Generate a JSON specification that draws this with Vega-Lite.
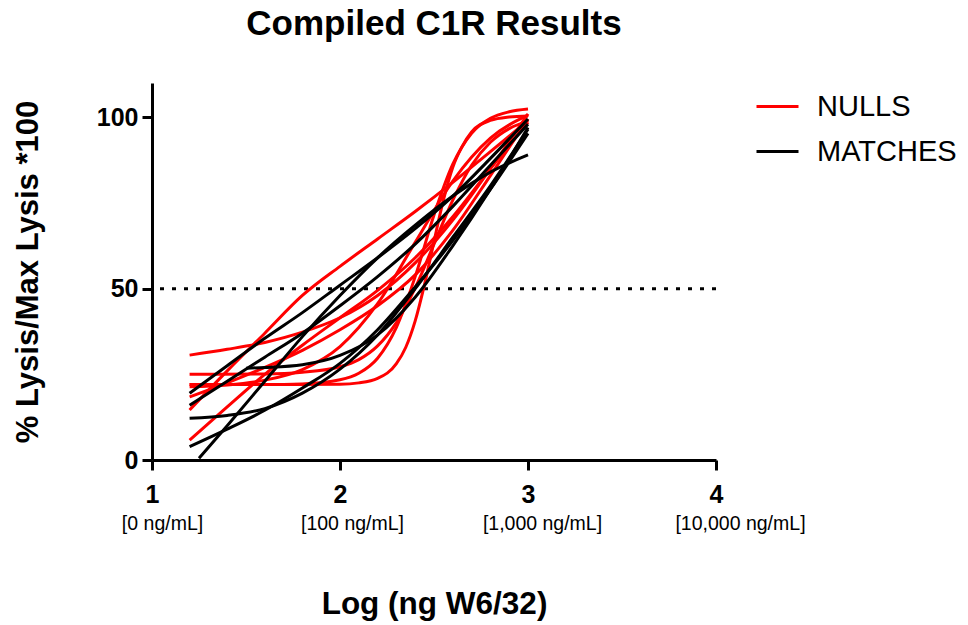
{
  "$schema": "https://vega.github.io/schema/vega-lite/v6.json",
  "width": 564,
  "height": 377,
  "autosize": {"type": "none"},
  "padding": {"left": 152, "top": 83, "right": 252, "bottom": 165},
  "background": "white",
  "title": {"text": "Compiled C1R Results", "font": "Liberation Sans", "fontSize": 35, "fontWeight": "bold", "color": "black", "anchor": "middle", "baseline": "alphabetic", "offset": 13},
  "config": {
    "view": {"stroke": null},
    "axis": {"domainColor": "black", "domainWidth": 3, "tickColor": "black", "tickWidth": 3, "grid": false, "labelFont": "Liberation Sans", "titleFont": "Liberation Sans", "labelColor": "black", "titleColor": "black", "labelFlush": false, "labelOverlap": false}
  },
  "datasets": {
    "curves": [
      {"curve": "R1", "group": "NULLS", "x": 1.2, "y": 14.6}, {"curve": "R1", "group": "NULLS", "x": 1.4, "y": 26}, {"curve": "R1", "group": "NULLS", "x": 1.6, "y": 37}, {"curve": "R1", "group": "NULLS", "x": 1.8, "y": 48}, {"curve": "R1", "group": "NULLS", "x": 2.0, "y": 56.5}, {"curve": "R1", "group": "NULLS", "x": 2.2, "y": 64.5}, {"curve": "R1", "group": "NULLS", "x": 2.4, "y": 72.5}, {"curve": "R1", "group": "NULLS", "x": 2.6, "y": 81}, {"curve": "R1", "group": "NULLS", "x": 2.8, "y": 90}, {"curve": "R1", "group": "NULLS", "x": 3.0, "y": 99},
      {"curve": "R2", "group": "NULLS", "x": 1.2, "y": 5.8}, {"curve": "R2", "group": "NULLS", "x": 1.4, "y": 15.5}, {"curve": "R2", "group": "NULLS", "x": 1.6, "y": 25}, {"curve": "R2", "group": "NULLS", "x": 1.8, "y": 33.5}, {"curve": "R2", "group": "NULLS", "x": 2.0, "y": 41.5}, {"curve": "R2", "group": "NULLS", "x": 2.2, "y": 49.5}, {"curve": "R2", "group": "NULLS", "x": 2.4, "y": 59}, {"curve": "R2", "group": "NULLS", "x": 2.6, "y": 71}, {"curve": "R2", "group": "NULLS", "x": 2.8, "y": 85}, {"curve": "R2", "group": "NULLS", "x": 3.0, "y": 98.5},
      {"curve": "R3", "group": "NULLS", "x": 1.2, "y": 30.6}, {"curve": "R3", "group": "NULLS", "x": 1.4, "y": 32.3}, {"curve": "R3", "group": "NULLS", "x": 1.6, "y": 34.3}, {"curve": "R3", "group": "NULLS", "x": 1.8, "y": 37.3}, {"curve": "R3", "group": "NULLS", "x": 2.0, "y": 41.5}, {"curve": "R3", "group": "NULLS", "x": 2.2, "y": 48}, {"curve": "R3", "group": "NULLS", "x": 2.4, "y": 57.5}, {"curve": "R3", "group": "NULLS", "x": 2.6, "y": 70}, {"curve": "R3", "group": "NULLS", "x": 2.8, "y": 85}, {"curve": "R3", "group": "NULLS", "x": 3.0, "y": 101},
      {"curve": "R4", "group": "NULLS", "x": 1.2, "y": 22}, {"curve": "R4", "group": "NULLS", "x": 1.6, "y": 22}, {"curve": "R4", "group": "NULLS", "x": 2.0, "y": 22.1}, {"curve": "R4", "group": "NULLS", "x": 2.1, "y": 22.5}, {"curve": "R4", "group": "NULLS", "x": 2.2, "y": 23.8}, {"curve": "R4", "group": "NULLS", "x": 2.3, "y": 28.1}, {"curve": "R4", "group": "NULLS", "x": 2.35, "y": 32.9}, {"curve": "R4", "group": "NULLS", "x": 2.4, "y": 40.6}, {"curve": "R4", "group": "NULLS", "x": 2.45, "y": 51.3}, {"curve": "R4", "group": "NULLS", "x": 2.5, "y": 63.8}, {"curve": "R4", "group": "NULLS", "x": 2.55, "y": 75.8}, {"curve": "R4", "group": "NULLS", "x": 2.6, "y": 85.4}, {"curve": "R4", "group": "NULLS", "x": 2.65, "y": 91.5}, {"curve": "R4", "group": "NULLS", "x": 2.7, "y": 95.7}, {"curve": "R4", "group": "NULLS", "x": 2.8, "y": 99.1}, {"curve": "R4", "group": "NULLS", "x": 2.9, "y": 100.1}, {"curve": "R4", "group": "NULLS", "x": 3.0, "y": 100.4},
      {"curve": "R5", "group": "NULLS", "x": 1.2, "y": 22}, {"curve": "R5", "group": "NULLS", "x": 1.6, "y": 22}, {"curve": "R5", "group": "NULLS", "x": 1.8, "y": 22.2}, {"curve": "R5", "group": "NULLS", "x": 2.0, "y": 23.4}, {"curve": "R5", "group": "NULLS", "x": 2.1, "y": 25.3}, {"curve": "R5", "group": "NULLS", "x": 2.2, "y": 29.7}, {"curve": "R5", "group": "NULLS", "x": 2.3, "y": 38.7}, {"curve": "R5", "group": "NULLS", "x": 2.4, "y": 53.5}, {"curve": "R5", "group": "NULLS", "x": 2.5, "y": 71.5}, {"curve": "R5", "group": "NULLS", "x": 2.6, "y": 86.3}, {"curve": "R5", "group": "NULLS", "x": 2.7, "y": 95.3}, {"curve": "R5", "group": "NULLS", "x": 2.8, "y": 99.7}, {"curve": "R5", "group": "NULLS", "x": 2.9, "y": 101.6}, {"curve": "R5", "group": "NULLS", "x": 3.0, "y": 102.4},
      {"curve": "R6", "group": "NULLS", "x": 1.2, "y": 25}, {"curve": "R6", "group": "NULLS", "x": 1.6, "y": 25.1}, {"curve": "R6", "group": "NULLS", "x": 1.8, "y": 25.6}, {"curve": "R6", "group": "NULLS", "x": 2.0, "y": 27.2}, {"curve": "R6", "group": "NULLS", "x": 2.1, "y": 29.3}, {"curve": "R6", "group": "NULLS", "x": 2.2, "y": 33.3}, {"curve": "R6", "group": "NULLS", "x": 2.3, "y": 40.1}, {"curve": "R6", "group": "NULLS", "x": 2.4, "y": 50.2}, {"curve": "R6", "group": "NULLS", "x": 2.5, "y": 63}, {"curve": "R6", "group": "NULLS", "x": 2.6, "y": 75.8}, {"curve": "R6", "group": "NULLS", "x": 2.7, "y": 86}, {"curve": "R6", "group": "NULLS", "x": 2.8, "y": 92.7}, {"curve": "R6", "group": "NULLS", "x": 2.9, "y": 96.7}, {"curve": "R6", "group": "NULLS", "x": 3.0, "y": 98.8},
      {"curve": "R7", "group": "NULLS", "x": 1.2, "y": 21.4}, {"curve": "R7", "group": "NULLS", "x": 1.4, "y": 21.9}, {"curve": "R7", "group": "NULLS", "x": 1.6, "y": 23.3}, {"curve": "R7", "group": "NULLS", "x": 1.8, "y": 26.4}, {"curve": "R7", "group": "NULLS", "x": 2.0, "y": 33.1}, {"curve": "R7", "group": "NULLS", "x": 2.2, "y": 45.6}, {"curve": "R7", "group": "NULLS", "x": 2.4, "y": 63.5}, {"curve": "R7", "group": "NULLS", "x": 2.6, "y": 81.4}, {"curve": "R7", "group": "NULLS", "x": 2.8, "y": 93.9}, {"curve": "R7", "group": "NULLS", "x": 3.0, "y": 100.6},
      {"curve": "R8", "group": "NULLS", "x": 1.2, "y": 18.4}, {"curve": "R8", "group": "NULLS", "x": 1.4, "y": 22.5}, {"curve": "R8", "group": "NULLS", "x": 1.6, "y": 27}, {"curve": "R8", "group": "NULLS", "x": 1.8, "y": 32}, {"curve": "R8", "group": "NULLS", "x": 2.0, "y": 38}, {"curve": "R8", "group": "NULLS", "x": 2.2, "y": 45}, {"curve": "R8", "group": "NULLS", "x": 2.4, "y": 54}, {"curve": "R8", "group": "NULLS", "x": 2.6, "y": 67}, {"curve": "R8", "group": "NULLS", "x": 2.8, "y": 83}, {"curve": "R8", "group": "NULLS", "x": 3.0, "y": 99.5},
      {"curve": "M1", "group": "MATCHES", "x": 1.2, "y": 19.5}, {"curve": "M1", "group": "MATCHES", "x": 1.4, "y": 27.5}, {"curve": "M1", "group": "MATCHES", "x": 1.6, "y": 35.5}, {"curve": "M1", "group": "MATCHES", "x": 1.8, "y": 43}, {"curve": "M1", "group": "MATCHES", "x": 2.0, "y": 51}, {"curve": "M1", "group": "MATCHES", "x": 2.2, "y": 59}, {"curve": "M1", "group": "MATCHES", "x": 2.4, "y": 67.5}, {"curve": "M1", "group": "MATCHES", "x": 2.6, "y": 77}, {"curve": "M1", "group": "MATCHES", "x": 2.8, "y": 88}, {"curve": "M1", "group": "MATCHES", "x": 3.0, "y": 99.5},
      {"curve": "M2", "group": "MATCHES", "x": 1.2, "y": 16}, {"curve": "M2", "group": "MATCHES", "x": 1.4, "y": 23}, {"curve": "M2", "group": "MATCHES", "x": 1.6, "y": 30}, {"curve": "M2", "group": "MATCHES", "x": 1.8, "y": 37}, {"curve": "M2", "group": "MATCHES", "x": 2.0, "y": 45}, {"curve": "M2", "group": "MATCHES", "x": 2.2, "y": 53.5}, {"curve": "M2", "group": "MATCHES", "x": 2.4, "y": 63}, {"curve": "M2", "group": "MATCHES", "x": 2.6, "y": 74}, {"curve": "M2", "group": "MATCHES", "x": 2.8, "y": 86}, {"curve": "M2", "group": "MATCHES", "x": 3.0, "y": 98},
      {"curve": "M3", "group": "MATCHES", "x": 1.2, "y": 12.2}, {"curve": "M3", "group": "MATCHES", "x": 1.4, "y": 13}, {"curve": "M3", "group": "MATCHES", "x": 1.6, "y": 15}, {"curve": "M3", "group": "MATCHES", "x": 1.8, "y": 19.5}, {"curve": "M3", "group": "MATCHES", "x": 2.0, "y": 26.5}, {"curve": "M3", "group": "MATCHES", "x": 2.2, "y": 36.5}, {"curve": "M3", "group": "MATCHES", "x": 2.4, "y": 50}, {"curve": "M3", "group": "MATCHES", "x": 2.6, "y": 65}, {"curve": "M3", "group": "MATCHES", "x": 2.8, "y": 80}, {"curve": "M3", "group": "MATCHES", "x": 3.0, "y": 96.5},
      {"curve": "M4", "group": "MATCHES", "x": 1.2, "y": 3.9}, {"curve": "M4", "group": "MATCHES", "x": 1.4, "y": 9}, {"curve": "M4", "group": "MATCHES", "x": 1.6, "y": 14.5}, {"curve": "M4", "group": "MATCHES", "x": 1.8, "y": 21}, {"curve": "M4", "group": "MATCHES", "x": 2.0, "y": 28.2}, {"curve": "M4", "group": "MATCHES", "x": 2.2, "y": 38}, {"curve": "M4", "group": "MATCHES", "x": 2.4, "y": 50.5}, {"curve": "M4", "group": "MATCHES", "x": 2.6, "y": 64}, {"curve": "M4", "group": "MATCHES", "x": 2.8, "y": 79}, {"curve": "M4", "group": "MATCHES", "x": 3.0, "y": 95.3},
      {"curve": "M5", "group": "MATCHES", "x": 1.25, "y": 0.5}, {"curve": "M5", "group": "MATCHES", "x": 1.4, "y": 10}, {"curve": "M5", "group": "MATCHES", "x": 1.6, "y": 23}, {"curve": "M5", "group": "MATCHES", "x": 1.8, "y": 36}, {"curve": "M5", "group": "MATCHES", "x": 2.0, "y": 48}, {"curve": "M5", "group": "MATCHES", "x": 2.2, "y": 59}, {"curve": "M5", "group": "MATCHES", "x": 2.4, "y": 68.5}, {"curve": "M5", "group": "MATCHES", "x": 2.6, "y": 77}, {"curve": "M5", "group": "MATCHES", "x": 2.8, "y": 84}, {"curve": "M5", "group": "MATCHES", "x": 3.0, "y": 89},
      {"curve": "M6", "group": "MATCHES", "x": 1.5, "y": 26.8}, {"curve": "M6", "group": "MATCHES", "x": 1.6, "y": 27}, {"curve": "M6", "group": "MATCHES", "x": 1.8, "y": 27.8}, {"curve": "M6", "group": "MATCHES", "x": 2.0, "y": 30.5}, {"curve": "M6", "group": "MATCHES", "x": 2.2, "y": 36.5}, {"curve": "M6", "group": "MATCHES", "x": 2.4, "y": 47.5}, {"curve": "M6", "group": "MATCHES", "x": 2.6, "y": 62.5}, {"curve": "M6", "group": "MATCHES", "x": 2.8, "y": 79}, {"curve": "M6", "group": "MATCHES", "x": 3.0, "y": 97}
    ],
    "ticks": [
      {"x": 1, "lab": "[0 ng/mL]"}, {"x": 2, "lab": "[100 ng/mL]"}, {"x": 3, "lab": "[1,000 ng/mL]"}, {"x": 4, "lab": "[10,000 ng/mL]"}
    ]
  },
  "layer": [
    {
      "data": {"values": [{"y": 50}]},
      "mark": {"type": "rule", "strokeDash": [4, 8], "strokeWidth": 3, "color": "black"},
      "encoding": {
        "y": {"field": "y", "type": "quantitative", "scale": {"domain": [0, 110], "nice": false}}
      }
    },
    {
      "data": {"name": "curves"},
      "mark": {"type": "line", "strokeWidth": 3, "interpolate": "monotone"},
      "encoding": {
        "x": {"field": "x", "type": "quantitative", "scale": {"domain": [1, 4], "nice": false, "zero": false},
              "axis": {"orient": "bottom", "values": [1, 2, 3, 4], "format": "d", "labelFontSize": 25, "labelFontWeight": "bold", "tickSize": 10, "labelPadding": 12, "title": null}},
        "y": {"field": "y", "type": "quantitative", "scale": {"domain": [0, 110], "nice": false},
              "axis": {"values": [0, 50, 100], "labelFontSize": 25, "labelFontWeight": "bold", "tickSize": 10, "labelPadding": 4, "title": "% Lysis/Max Lysis *100", "titleFontSize": 31, "titleFontWeight": "bold", "titlePadding": 52}},
        "color": {"field": "group", "type": "nominal", "scale": {"domain": ["NULLS", "MATCHES"], "range": ["#ff0000", "#000000"]},
                  "legend": {"title": null, "orient": "none", "legendX": 603, "legendY": 1, "symbolType": "stroke", "symbolSize": 1764, "symbolStrokeWidth": 3, "labelFont": "Liberation Sans", "labelFontSize": 29, "labelColor": "black", "labelOffset": 17, "rowPadding": 7}},
        "detail": {"field": "curve", "type": "nominal"},
        "order": {"field": "x", "type": "quantitative"}
      }
    },
    {
      "data": {"name": "ticks"},
      "mark": {"type": "point", "opacity": 0},
      "encoding": {
        "x": {"field": "x", "type": "quantitative", "scale": {"domain": [1, 4], "nice": false, "zero": false},
              "axis": {"orient": "bottom", "values": [1, 2, 3, 4], "labelExpr": "['', '[0 ng/mL]', '[100 ng/mL]', '[1,000 ng/mL]', '[10,000 ng/mL]'][datum.value]", "domain": false, "ticks": false, "tickSize": 0, "labelFontSize": 19.5, "labelFontWeight": "normal", "labelPadding": 54, "title": "Log (ng W6/32)", "titleFontSize": 31.5, "titleFontWeight": "bold", "titlePadding": 56,
                       "labelOffset": {"condition": [{"test": "datum.value == 4", "value": 24}, {"test": "datum.value == 3", "value": 14}, {"test": "datum.value == 2", "value": 12}], "value": 10}}},
        "y": {"datum": 0, "type": "quantitative"}
      }
    }
  ],
  "resolve": {"axis": {"x": "independent"}}
}
